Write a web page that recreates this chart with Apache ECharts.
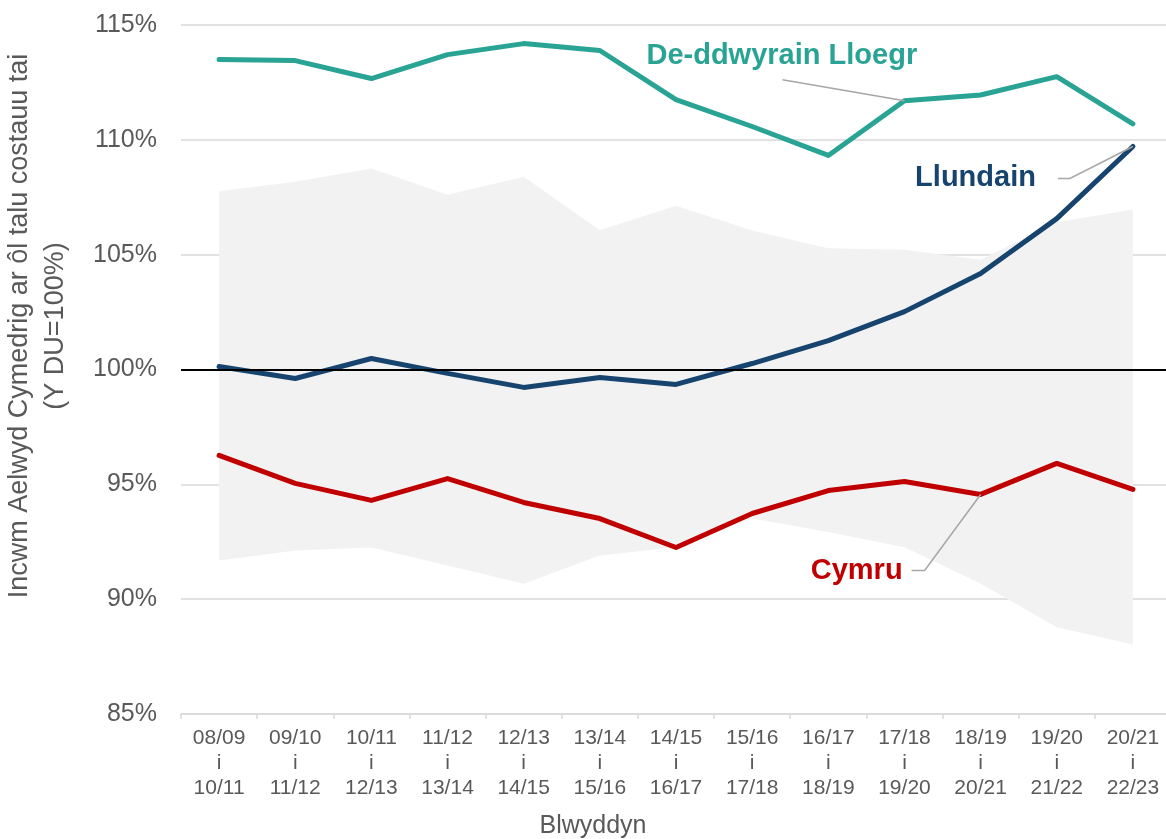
<!DOCTYPE html>
<html>
<head>
<meta charset="utf-8">
<script src="https://cdn.jsdelivr.net/npm/echarts@6/dist/echarts.min.js"></script>
<style>
html, body { margin: 0; padding: 0; background: #fff; overflow: hidden; }
#main { width: 1172px; height: 839px; }
</style>
</head>
<body>
<div id="main"></div>
<script>
// blynyddoedd (cyfartaledd 3 blynedd)
var years = [
  "08/09\ni\n10/11", "09/10\ni\n11/12", "10/11\ni\n12/13", "11/12\ni\n13/14",
  "12/13\ni\n14/15", "13/14\ni\n15/16", "14/15\ni\n16/17", "15/16\ni\n17/18",
  "16/17\ni\n18/19", "17/18\ni\n19/20", "18/19\ni\n20/21", "19/20\ni\n21/22",
  "20/21\ni\n22/23"
];
var southEast = [113.50, 113.45, 112.67, 113.71, 114.19, 113.89, 111.75, 110.58, 109.32, 111.70, 111.95, 112.75, 110.70];
var london    = [100.13, 99.61, 100.48, 99.83, 99.22, 99.65, 99.35, 100.26, 101.26, 102.52, 104.18, 106.57, 109.71];
var wales     = [96.26, 95.04, 94.30, 95.25, 94.21, 93.51, 92.25, 93.73, 94.73, 95.12, 94.56, 95.91, 94.78];
// ystod y rhanbarthau eraill
var rangeLow  = [91.68, 92.12, 92.25, 91.47, 90.67, 91.90, 92.26, 93.51, 92.92, 92.26, 90.68, 88.78, 88.03];
var rangeHigh = [107.76, 108.18, 108.75, 107.61, 108.39, 106.06, 107.13, 106.05, 105.28, 105.21, 104.78, 106.41, 106.97];
var yMin = 85, yMax = 115, yStep = 5;
var ukLevel = 100;

var bandWidth = rangeHigh.map(function (v, i) { return +(v - rangeLow[i]).toFixed(2); });

var FONT = "'Liberation Sans', Arial, sans-serif";
var GREY = "#595959";

var chart = echarts.init(document.getElementById("main"));
chart.setOption({
  animation: false,
  grid: { left: 181, top: 25, right: 1, height: 689 },
  xAxis: {
    type: "category",
    data: years,
    boundaryGap: true,
    axisLine: { lineStyle: { color: "#d9d9d9", width: 1.5 } },
    axisTick: { show: true, interval: 0, length: 5, lineStyle: { color: "#d9d9d9", width: 1.5 } },
    axisLabel: { interval: 0, color: GREY, fontFamily: FONT, fontSize: 21, lineHeight: 25, margin: 12 }
  },
  yAxis: {
    type: "value",
    min: yMin,
    max: yMax,
    interval: yStep,
    axisLine: { show: false },
    axisTick: { show: false },
    axisLabel: { formatter: "{value}%", color: GREY, fontFamily: FONT, fontSize: 25, margin: 24 },
    splitLine: { lineStyle: { color: "#d9d9d9", width: 1.5 } }
  },
  series: [
    {
      name: "isaf",
      type: "line",
      stack: "ystod",
      data: rangeLow,
      symbol: "none",
      lineStyle: { opacity: 0 },
      silent: true,
      z: 1,
      markLine: {
        silent: true,
        symbol: ["none", "none"],
        label: { show: false },
        lineStyle: { color: "#000", width: 2, type: "solid" },
        data: [{ yAxis: ukLevel }]
      }
    },
    {
      name: "ystod",
      type: "line",
      stack: "ystod",
      data: bandWidth,
      symbol: "none",
      lineStyle: { opacity: 0 },
      areaStyle: { color: "#f2f2f2", opacity: 1 },
      silent: true,
      z: 0
    },
    {
      name: "Cymru",
      type: "line",
      data: wales,
      symbol: "none",
      lineStyle: { color: "#c00000", width: 5, cap: "round", join: "round" },
      z: 3
    },
    {
      name: "Llundain",
      type: "line",
      data: london,
      symbol: "none",
      lineStyle: { color: "#17446f", width: 5, cap: "round", join: "round" },
      z: 4
    },
    {
      name: "De-ddwyrain Lloegr",
      type: "line",
      data: southEast,
      symbol: "none",
      lineStyle: { color: "#29a393", width: 5, cap: "round", join: "round" },
      z: 4
    }
  ]
});

// labeli'r llinellau gyda llinellau arwain
function px(i, v) { return chart.convertToPixel({ gridIndex: 0 }, [i, v]); }
var graphics = [];
function leader(text, color, a, pts, tx, ty, align) {
  graphics.push({
    type: "polyline", z: 100, silent: true,
    shape: { points: pts.map(function (p) { return [a[0] + p[0], a[1] + p[1]]; }) },
    style: { stroke: "#a6a6a6", lineWidth: 1.5, fill: null }
  });
  graphics.push({
    type: "text", z: 100, silent: true, x: a[0] + tx, y: a[1] + ty,
    style: { text: text, fill: color, font: "bold 29px " + FONT, align: align, verticalAlign: "middle" }
  });
}
leader("De-ddwyrain Lloegr", "#29a393", px(9, southEast[9]), [[-122, -21], [0, 0]], -258, -45, "left");
leader("Llundain", "#17446f", px(12, london[12]), [[-75, 32], [-63, 32], [0, 0]], -97, 32, "right");
leader("Cymru", "#c00000", px(10, wales[10]), [[-69, 76], [-56, 76], [0, 0]], -78, 77, "right");

graphics.push({
  type: "text", silent: true, x: 38, y: 326, rotation: Math.PI / 2,
  style: {
    text: "Incwm Aelwyd Cymedrig ar ôl talu costauu tai\n(Y DU=100%)",
    fill: GREY, font: "27px " + FONT, align: "center", verticalAlign: "middle", lineHeight: 36
  }
});
graphics.push({
  type: "text", silent: true, x: 593, y: 826,
  style: { text: "Blwyddyn", fill: GREY, font: "25px " + FONT, align: "center", verticalAlign: "middle" }
});
chart.setOption({ graphic: graphics });
</script>
</body>
</html>
